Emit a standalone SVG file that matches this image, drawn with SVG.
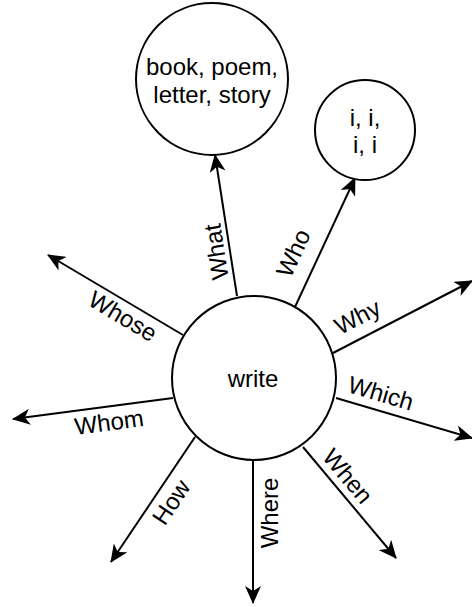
<svg xmlns="http://www.w3.org/2000/svg" width="472" height="607" viewBox="0 0 472 607">
  <style>
    .node { fill: #ffffff; stroke: #000000; stroke-width: 2; }
    .ntext { font-family: "Liberation Sans", Helvetica, Arial, sans-serif; font-size: 24px; fill: #000000; text-anchor: middle; }
    .edge { fill: none; stroke: #000000; stroke-width: 2; marker-end: url(#arrow); }
    .elabel { font-family: "Liberation Sans", Helvetica, Arial, sans-serif; font-size: 24px; fill: #000000; text-anchor: middle; }
  </style>
  <defs>
    <marker id="arrow" viewBox="0 0 18 16" refX="17" refY="8" markerWidth="18" markerHeight="16" markerUnits="userSpaceOnUse" orient="auto">
      <path d="M18,8 L0,0 L5,8 L0,16 Z" fill="#000000"/>
    </marker>
  </defs>
  <rect width="472" height="607" fill="#ffffff"/>

  <!-- connectors from the central node -->
  <g id="connectors">
    <line class="edge" x1="237" y1="296" x2="215" y2="155"/>
    <line class="edge" x1="295" y1="307" x2="355" y2="178"/>
    <line class="edge" x1="333" y1="353" x2="472" y2="281"/>
    <line class="edge" x1="336" y1="398" x2="472" y2="438"/>
    <line class="edge" x1="303" y1="447" x2="396" y2="558"/>
    <line class="edge" x1="253" y1="460" x2="253" y2="603"/>
    <line class="edge" x1="195" y1="437" x2="111" y2="562"/>
    <line class="edge" x1="173" y1="398" x2="13" y2="419"/>
    <line class="edge" x1="183" y1="335" x2="48" y2="255"/>

    <g transform="translate(216,252) rotate(-98.9)"><text class="elabel" x="0" y="8.6">What</text></g>
    <g transform="translate(293,253) rotate(-65)"><text class="elabel" x="0" y="8.6">Who</text></g>
    <g transform="translate(358.5,319) rotate(-27.4)"><text class="elabel" x="0" y="6">Why</text></g>
    <g transform="translate(381,393) rotate(16.4)"><text class="elabel" x="0" y="8.6">Which</text></g>
    <g transform="translate(348,476) rotate(50)"><text class="elabel" x="0" y="8.6">When</text></g>
    <g transform="translate(269,513) rotate(-90)"><text class="elabel" x="0" y="8.6">Where</text></g>
    <g transform="translate(171,502) rotate(-56)"><text class="elabel" x="0" y="8.6">How</text></g>
    <g transform="translate(109,422) rotate(-7.5)"><text class="elabel" x="0" y="8.6">Whom</text></g>
    <g transform="translate(123,316) rotate(30.65)"><text class="elabel" x="0" y="8.6">Whose</text></g>
  </g>

  <g id="node-write">
    <circle class="node" cx="254" cy="378" r="82"/>
    <text class="ntext" x="253" y="387">write</text>
  </g>

  <g id="node-what">
    <circle class="node" cx="212" cy="79" r="76"/>
    <text class="ntext" x="212" y="75">book, poem,</text>
    <text class="ntext" x="212" y="103">letter, story</text>
  </g>

  <g id="node-who">
    <circle class="node" cx="365" cy="130" r="50"/>
    <text class="ntext" x="365" y="126">i, i,</text>
    <text class="ntext" x="365" y="153">i, i</text>
  </g>
</svg>
